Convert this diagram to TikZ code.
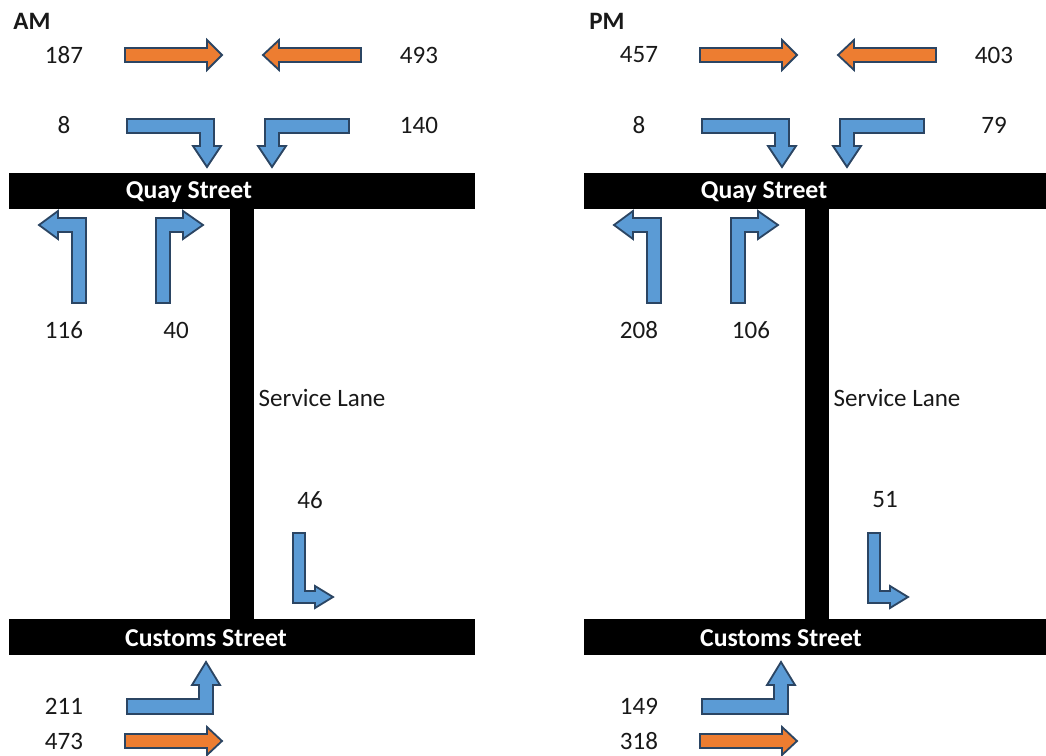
\documentclass[tikz,border=0pt]{standalone}
\usepackage{fontspec}
\setmainfont{Carlito}
\definecolor{thru}{HTML}{ED7D31}
\definecolor{turn}{HTML}{5B9BD5}
\definecolor{rim}{HTML}{2B4563}

\begin{document}
\begin{tikzpicture}[x=0.025cm,y=-0.025cm,
    thru/.style={fill=thru,draw=rim,line width=1.3pt},
    turn/.style={fill=turn,draw=rim,line width=1.3pt},
    road/.style={fill=black},
    count/.style={font=\fontsize{17.8}{20}\selectfont,text=black!90},
    street/.style={font=\fontsize{18.3}{20}\selectfont\bfseries,text=white}]
  \clip (0,0) rectangle (1046,756);
  \foreach \dx/\period/\ebt/\wbt/\ebr/\wbl/\nbl/\nbr/\lane/\cbl/\cbt in
      {0/AM/187/493/8/140/116/40/46/211/473,
       575/PM/457/403/8/79/208/106/51/149/318} {
  \begin{scope}[shift={(\dx,0)}]
    % roads
    \fill[road] (9,173) rectangle (475,209);
    \fill[road] (230,209) rectangle (254,619);
    \fill[road] (9,619) rectangle (475,655);
    \node[street] (\period-quay) at (189,192) {Quay Street};
    \node[street] (\period-customs) at (206,638) {Customs Street};
    \node[count] (\period-lane) at (322,398) {Service Lane};
    \node[count,font=\fontsize{17.8}{20}\selectfont\bfseries] (\period-tag) at (32,21) {\period};

    % Quay Street through
    \draw[thru] (125,48) -- (207,48) -- (207,40) -- (222,55) -- (207,70) -- (207,62) -- (125,62) -- cycle;
    \draw[thru] (361,48) -- (279,48) -- (279,40) -- (263,55) -- (279,70) -- (279,62) -- (361,62) -- cycle;
    % turns into the lane
    \draw[turn] (127,119) -- (214,119) -- (214,146) -- (221,146) -- (207,167) -- (193,146) -- (200,146) -- (200,133) -- (127,133) -- cycle;
    \draw[turn] (349,119) -- (265,119) -- (265,146) -- (258,146) -- (272,167) -- (286,146) -- (279,146) -- (279,133) -- (349,133) -- cycle;
    % out of the lane onto Quay Street
    \draw[turn] (86,303) -- (86,218) -- (58,218) -- (58,211) -- (39,225) -- (58,239) -- (58,232) -- (72,232) -- (72,303) -- cycle;
    \draw[turn] (156,303) -- (156,218) -- (183,218) -- (183,211) -- (203,225) -- (183,239) -- (183,232) -- (170,232) -- (170,303) -- cycle;
    % down the lane
    \draw[turn] (293,533) -- (305,533) -- (305,591) -- (315,591) -- (315,586) -- (333,597) -- (315,608) -- (315,603) -- (293,603) -- cycle;
    % Customs Street
    \draw[turn] (127,714) -- (213,714) -- (213,685) -- (220,685) -- (206,662) -- (192,685) -- (199,685) -- (199,699) -- (127,699) -- cycle;
    \draw[thru] (125,734) -- (207,734) -- (207,727) -- (222,741) -- (207,755) -- (207,748) -- (125,748) -- cycle;

    % counts
    \node[count] (\period-ebt) at (64,55) {\ebt};
    \node[count] (\period-wbt) at (419,55) {\wbt};
    \node[count] (\period-ebr) at (64,125) {\ebr};
    \node[count] (\period-wbl) at (419,125) {\wbl};
    \node[count] (\period-nbl) at (64,330) {\nbl};
    \node[count] (\period-nbr) at (176,330) {\nbr};
    \node[count] (\period-sbr) at (310,500) {\lane};
    \node[count] (\period-cbl) at (64,706) {\cbl};
    \node[count] (\period-cbt) at (64,741) {\cbt};
  \end{scope}
  }
\end{tikzpicture}
\end{document}
